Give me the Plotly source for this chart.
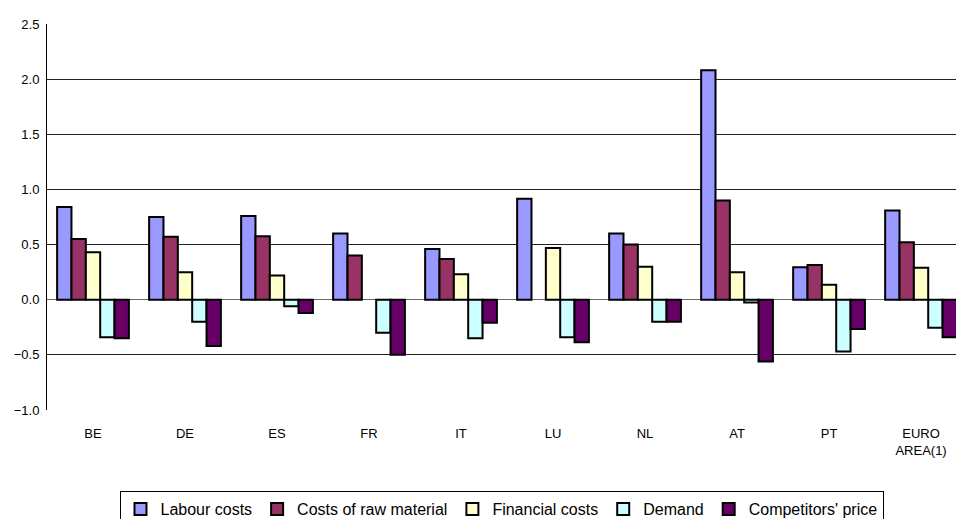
import plotly.graph_objects as go

categories = ["BE", "DE", "ES", "FR", "IT", "LU", "NL", "AT", "PT", "EURO<br>AREA(1)"]
labour_costs = [0.84, 0.75, 0.76, 0.60, 0.46, 0.915, 0.60, 2.08, 0.295, 0.81]
raw_material = [0.55, 0.57, 0.575, 0.40, 0.37, None, 0.50, 0.90, 0.315, 0.52]
financial_costs = [0.43, 0.25, 0.22, None, 0.23, 0.47, 0.30, 0.25, 0.135, 0.29]
demand = [-0.34, -0.20, -0.06, -0.30, -0.35, -0.34, -0.20, -0.025, -0.47, -0.255]
competitors_price = [-0.35, -0.42, -0.12, -0.50, -0.21, -0.385, -0.20, -0.56, -0.265, -0.34]

series = [
    ("Labour costs", labour_costs, "#9999FF"),
    ("Costs of raw material", raw_material, "#993366"),
    ("Financial costs", financial_costs, "#FFFFCC"),
    ("Demand", demand, "#CCFFFF"),
    ("Competitors' price", competitors_price, "#660066"),
]

fig = go.Figure()
for name, vals, color in series:
    fig.add_trace(go.Bar(
        x=categories, y=vals, name=name,
        marker=dict(color=color, line=dict(color="black", width=2)),
    ))

fig.update_layout(
    width=956, height=519,
    margin=dict(l=47, r=0, t=24, b=109, autoexpand=False),
    barmode="group", bargap=0.22, bargroupgap=0,
    plot_bgcolor="white", paper_bgcolor="white",
    font=dict(family="Liberation Sans, Arial, sans-serif", size=13, color="black"),
    xaxis=dict(
        range=[-0.5, 9.38], showgrid=False, showline=False, ticks="",
        tickfont=dict(size=13), ticklabelstandoff=14, automargin=False,
    ),
    yaxis=dict(
        range=[-1.0, 2.5], dtick=0.5, tickformat=".1f",
        showgrid=True, gridcolor="#222222", gridwidth=1,
        zeroline=True, zerolinecolor="#666666", zerolinewidth=1,
        showline=True, linecolor="black", linewidth=1, ticks="",
        tickfont=dict(size=13), ticklabelstandoff=4, automargin=False,
    ),
    legend=dict(
        orientation="h", x=0.5, xanchor="center", y=-0.21, yanchor="top",
        bordercolor="black", borderwidth=1,
        font=dict(size=16), itemwidth=30, tracegroupgap=0,
        itemclick=False,
    ),
    showlegend=True,
)

fig.write_html(
    "out.html",
    config={"displayModeBar": False},
    post_script="document.body.style.margin='0';",
)
